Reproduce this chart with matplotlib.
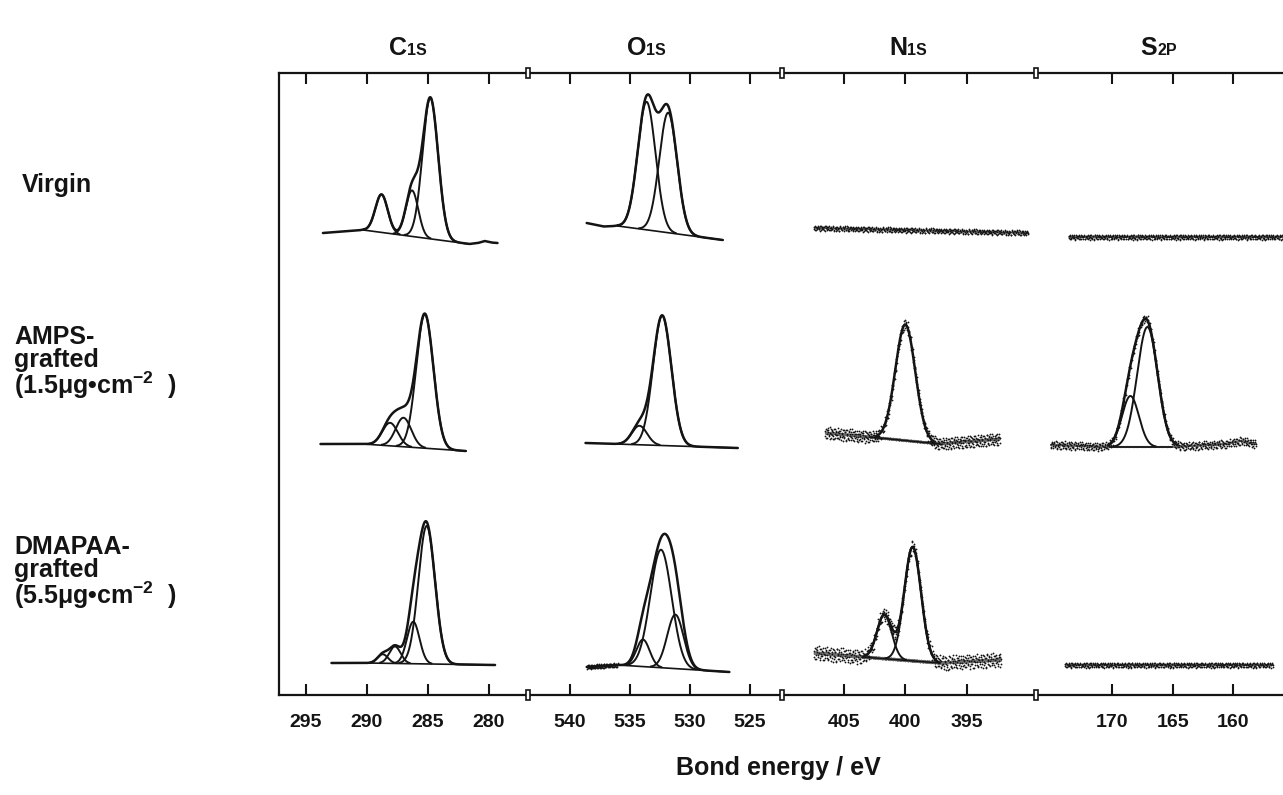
import numpy as np
import matplotlib.pyplot as plt
from matplotlib.patches import Rectangle

plt.rcParams['font.family'] = ['Liberation Sans', 'DejaVu Sans']
plt.rcParams['font.weight'] = 'bold'
plt.rcParams['mathtext.fontset'] = 'custom'
plt.rcParams['mathtext.rm'] = 'Liberation Sans:bold'
plt.rcParams['mathtext.bf'] = 'Liberation Sans:bold'
plt.rcParams['mathtext.default'] = 'bf'

INK = '#141414'
W, H = 1283, 795

# ---- panels (core levels) ----
elements = ["C", "O", "N", "S"]
levels = ["1S", "1S", "1S", "2P"]
xlims = [(297.2, 276.8), (543.5, 522.3), (410.0, 389.4), (176.3, 155.9)]
xticks = [[295, 290, 285, 280], [540, 535, 530, 525], [405, 400, 395], [170, 165, 160]]
row_labels = ["Virgin",
              "AMPS-\ngrafted\n(1.5μg•cm$^{-2}$  )",
              "DMAPAA-\ngrafted\n(5.5μg•cm$^{-2}$  )"]

# ---- spectra: background points (eV, level), peaks (eV, height, FWHM eV) ----
# Virgin
vir_c1s_bg = [(293.6, 462), (290.3, 465), (281.6, 451), (280.9, 452), (280.35, 454), (279.8, 452.5), (279.3, 452)]
vir_c1s_pk = [(288.8, 38, 1.2), (286.3, 46, 1.2), (284.8, 141, 1.5)]
vir_c1s_base = (290.3, 281.6)

vir_o1s_bg = [(538.6, 472), (537.2, 468.5), (536.0, 469), (527.25, 455)]
vir_o1s_pk = [(533.6, 128, 1.75), (531.8, 120, 1.75)]
vir_o1s_base = (536.0, 527.25)

vir_n1s_bg = [(407.4, 467), (390.0, 462)]
vir_s2p_bg = [(173.6, 458), (155.9, 458)]

# AMPS-grafted
amp_c1s_bg = [(293.8, 251), (290.3, 251), (281.9, 244)]
amp_c1s_pk = [(288.1, 23, 1.5), (287.0, 29, 1.5), (285.25, 134, 1.65)]
amp_c1s_base = (290.3, 281.9)

amp_o1s_bg = [(538.7, 252), (526.0, 247)]
amp_o1s_pk = [(534.2, 19, 1.5), (532.3, 130, 1.8)]
amp_o1s_base = (536.5, 526.0)

amp_n1s_bg = [(406.5, 262), (402.9, 258), (397.2, 251), (392.3, 256)]
amp_n1s_pk = [(400.0, 116, 1.9)]
amp_n1s_base = (402.9, 397.2)

amp_s2p_bg = [(175.1, 250), (170.2, 248), (165.1, 248), (160.5, 251), (159.4, 254), (158.1, 251)]
amp_s2p_pk = [(168.5, 51, 1.65), (167.1, 120, 2.0)]
amp_s2p_base = (170.2, 165.1)

# DMAPAA-grafted
dma_c1s_bg = [(292.9, 32), (290.0, 32), (279.5, 30)]
dma_c1s_pk = [(288.7, 9, 1.0), (287.7, 17, 1.1), (286.2, 42, 1.2), (285.1, 138, 1.6)]
dma_c1s_base = (290.0, 280.5)

dma_o1s_bg = [(538.6, 28), (536.0, 30), (526.7, 23)]
dma_o1s_pk = [(533.9, 27, 1.3), (532.4, 118, 2.1), (531.2, 54, 1.6)]
dma_o1s_base = (536.0, 526.7)
dma_o1s_noisy = (538.6, 536.0)

dma_n1s_bg = [(407.4, 42), (403.5, 38), (397.2, 32), (392.2, 35)]
dma_n1s_pk = [(401.7, 44, 1.4), (399.4, 114, 1.6)]
dma_n1s_base = (403.5, 397.2)

dma_s2p_bg = [(173.9, 30), (156.7, 30)]

# hand-read scatter of the noisy traces (relative units)
JITTER = [0.3, -0.8, 0.6, -0.2, 0.9, -0.5, 0.1, -1.0, 0.7, -0.3, 0.4, -0.9,
          0.8, 0.0, -0.6, 0.5, -0.1, 1.0, -0.7, 0.2, -0.4, 0.6, -0.9, 0.3,
          0.8, -0.2, -0.6, 0.4, -1.0, 0.9, 0.1, -0.5, 0.7, -0.8, 0.2, 0.5,
          -0.3, 1.0, -0.7, 0.0, 0.6, -0.4, 0.3, -0.9, 0.8, -0.1, 0.4, -0.6]


def gauss(E, c, h, fwhm):
    s = fwhm / 2.3548
    return h * np.exp(-0.5 * ((E - c) / s) ** 2)


def draw(ax, bg, peaks=(), base=None, noise=0.0, noisy=None):
    bgE = np.array([p[0] for p in bg])
    bgY = np.array([p[1] for p in bg])
    E = np.linspace(bgE[0], bgE[-1], 1200)
    b = np.interp(E, bgE[::-1], bgY[::-1])
    sig = np.zeros_like(E)
    for p in peaks:
        sig += gauss(E, *p)
    tot = b + sig

    if noise:
        lo, hi = (noisy[1], noisy[0]) if noisy else (E.min(), E.max())
        for k, shift in enumerate([0, 17]):
            En = E[k * 2::5]
            En = En[(En >= lo) & (En <= hi)]
            jit = np.roll(np.resize(JITTER, len(En)), shift)
            yn = np.interp(En, E[::-1], tot[::-1]) + noise * jit
            ax.plot(En, yn, ls='none', marker='o', ms=1.3, color=INK, mew=0)
        m = (E >= lo) & (E <= hi)
        ax.plot(E[m], b[m] + noise * 0.25 * np.resize(JITTER, m.sum()), lw=0.5, color=INK, alpha=0.6)

    if base is not None:
        m = (E <= base[0]) & (E >= base[1])
        ax.plot(E[m], b[m], lw=1.2, color=INK)

    if len(peaks) > 1 and base is not None:
        for p in peaks:
            g = gauss(E, *p)
            m = (g > 0.6) & (E <= base[0]) & (E >= base[1])
            ax.plot(E[m], (b + g)[m], lw=1.4, color=INK)

    if len(peaks):
        if noise and not noisy:
            y = np.where(sig > 1.5, tot, np.nan)
        else:
            y = tot
        ax.plot(E, y, lw=1.8, color=INK, solid_capstyle='round')


fig = plt.figure(figsize=(W / 100, H / 100), dpi=100)
edges = [279, 528, 782, 1036, 1283]
top, bottom = 73, 695
axes = []
for i in range(4):
    ax = fig.add_axes([edges[i] / W, 1 - bottom / H, (edges[i + 1] - edges[i]) / W, (bottom - top) / H])
    ax.set_xlim(*xlims[i])
    ax.set_ylim(0, bottom - top)
    ax.set_xticks(xticks[i])
    ax.set_yticks([])
    ax.tick_params(axis='x', direction='in', length=8, width=1.5, top=True,
                   labelsize=14, pad=14, colors=INK)
    for s in ['top', 'bottom']:
        ax.spines[s].set_linewidth(1.6)
        ax.spines[s].set_color(INK)
    ax.spines['right'].set_visible(False)
    if i == 0:
        ax.spines['left'].set_linewidth(1.6)
        ax.spines['left'].set_color(INK)
    else:
        ax.spines['left'].set_visible(False)
    for lab in ax.get_xticklabels():
        lab.set_fontweight('bold')
    axes.append(ax)

# spectra
draw(axes[0], vir_c1s_bg, vir_c1s_pk, vir_c1s_base)
draw(axes[1], vir_o1s_bg, vir_o1s_pk, vir_o1s_base)
draw(axes[2], vir_n1s_bg, noise=2.5)
draw(axes[3], vir_s2p_bg, noise=2.5)

draw(axes[0], amp_c1s_bg, amp_c1s_pk, amp_c1s_base)
draw(axes[1], amp_o1s_bg, amp_o1s_pk, amp_o1s_base)
draw(axes[2], amp_n1s_bg, amp_n1s_pk, amp_n1s_base, noise=6)
draw(axes[3], amp_s2p_bg, amp_s2p_pk, amp_s2p_base, noise=4)

draw(axes[0], dma_c1s_bg, dma_c1s_pk, dma_c1s_base)
draw(axes[1], dma_o1s_bg, dma_o1s_pk, dma_o1s_base, noise=2, noisy=dma_o1s_noisy)
draw(axes[2], dma_n1s_bg, dma_n1s_pk, dma_n1s_base, noise=7)
draw(axes[3], dma_s2p_bg, noise=2.5)

# axis break marks
for xb in edges[1:4]:
    for yb in (top, bottom):
        fig.patches.append(Rectangle(((xb - 2) / W, 1 - (yb + 5) / H), 4 / W, 10 / H,
                                     transform=fig.transFigure, facecolor='white',
                                     edgecolor=INK, lw=1.2, zorder=10))

# column titles
centers = [408, 647, 908, 1158]
for cx, el, lv in zip(centers, elements, levels):
    fig.text((cx - 1) / W, 1 - 55 / H, el, ha='right', va='baseline', fontsize=18,
             fontweight='bold', color=INK)
    fig.text((cx - 1) / W, 1 - 55 / H, lv, ha='left', va='baseline', fontsize=11.5,
             fontweight='bold', color=INK)

# row labels
fig.text(22 / W, 1 - 185 / H, row_labels[0], ha='left', va='center', fontsize=18,
         fontweight='bold', color=INK)
fig.text(14 / W, 1 - 363 / H, row_labels[1], ha='left', va='center', fontsize=18,
         fontweight='bold', color=INK, linespacing=0.92)
fig.text(14 / W, 1 - 573 / H, row_labels[2], ha='left', va='center', fontsize=18,
         fontweight='bold', color=INK, linespacing=0.92)

fig.text(778 / W, 1 - 768 / H, "Bond energy / eV", ha='center', va='center',
         fontsize=18, fontweight='bold', color=INK)

fig.savefig("out.png", dpi=100)
